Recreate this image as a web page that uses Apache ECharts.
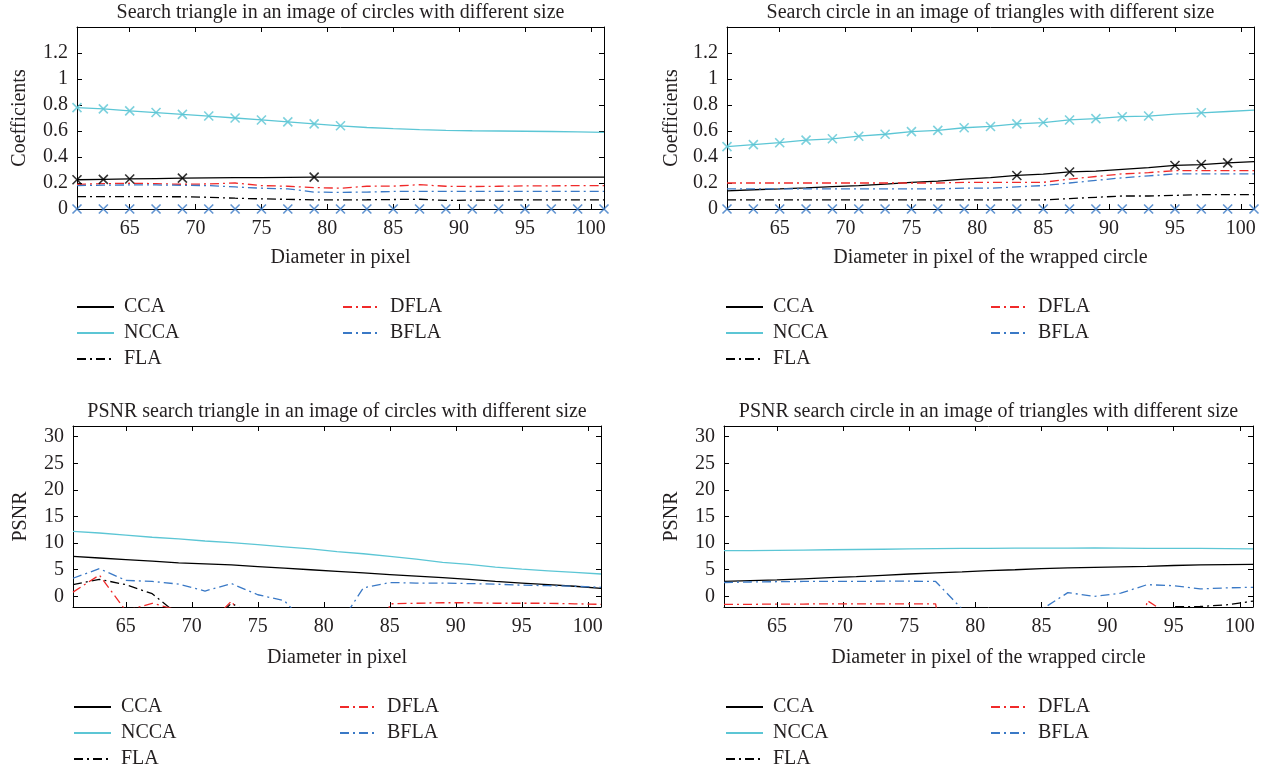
<!DOCTYPE html>
<html>
<head>
<meta charset="utf-8">
<script src="https://cdn.jsdelivr.net/npm/echarts@6/dist/echarts.min.js"></script>
<style>
  html, body { margin: 0; padding: 0; background: #ffffff; }
  #main { width: 1261px; height: 771px; }
</style>
</head>
<body>
<div id="main"></div>
<script>
// Diameters (pixels) at which each detector was evaluated
const diameters = [61, 63, 65, 67, 69, 71, 73, 75, 77, 79, 81, 83, 85, 87, 89, 91, 93, 95, 97, 99, 101];
const diameterTicks = [65, 70, 75, 80, 85, 90, 95, 100];
const coefTicks = [0, 0.2, 0.4, 0.6, 0.8, 1, 1.2];
const psnrTicks = [0, 5, 10, 15, 20, 25, 30];

// Triangle searched among circles: correlation coefficients
const triCoefCCA  = [0.225, 0.228, 0.231, 0.234, 0.237, 0.239, 0.241, 0.242, 0.243, 0.245, 0.245, 0.245, 0.245, 0.245, 0.245, 0.245, 0.245, 0.245, 0.245, 0.245, 0.245];
const triCoefNCCA = [0.78, 0.77, 0.755, 0.742, 0.728, 0.715, 0.70, 0.685, 0.67, 0.655, 0.64, 0.627, 0.618, 0.61, 0.605, 0.602, 0.60, 0.598, 0.596, 0.594, 0.59];
const triCoefFLA  = [0.095, 0.095, 0.095, 0.095, 0.094, 0.09, 0.083, 0.078, 0.074, 0.07, 0.07, 0.071, 0.073, 0.075, 0.066, 0.068, 0.069, 0.07, 0.07, 0.07, 0.07];
const triCoefDFLA = [0.19, 0.195, 0.198, 0.195, 0.19, 0.193, 0.2, 0.18, 0.175, 0.165, 0.16, 0.175, 0.176, 0.187, 0.175, 0.173, 0.175, 0.178, 0.178, 0.18, 0.18];
const triCoefBFLA = [0.18, 0.183, 0.185, 0.185, 0.182, 0.18, 0.17, 0.16, 0.155, 0.13, 0.128, 0.13, 0.135, 0.135, 0.135, 0.135, 0.135, 0.135, 0.135, 0.135, 0.135];
const triNCCAHits = [61, 63, 65, 67, 69, 71, 73, 75, 77, 79, 81];
const triCCAHits  = [61, 63, 65, 69, 79];
const triZeroHits = [61, 63, 65, 67, 69, 71, 73, 75, 77, 79, 81, 83, 85, 87, 89, 91, 93, 95, 97, 99, 101];

// Circle searched among triangles: correlation coefficients
const cirCoefCCA  = [0.14, 0.148, 0.155, 0.163, 0.172, 0.18, 0.192, 0.205, 0.215, 0.23, 0.242, 0.258, 0.268, 0.285, 0.292, 0.305, 0.318, 0.335, 0.342, 0.355, 0.365];
const cirCoefNCCA = [0.48, 0.495, 0.51, 0.53, 0.54, 0.56, 0.575, 0.595, 0.605, 0.625, 0.635, 0.655, 0.665, 0.685, 0.695, 0.71, 0.715, 0.73, 0.74, 0.75, 0.76];
const cirCoefFLA  = [0.07, 0.07, 0.07, 0.07, 0.07, 0.07, 0.07, 0.07, 0.07, 0.07, 0.07, 0.07, 0.07, 0.08, 0.09, 0.1, 0.1, 0.105, 0.11, 0.11, 0.11];
const cirCoefDFLA = [0.2, 0.2, 0.2, 0.2, 0.2, 0.2, 0.2, 0.2, 0.2, 0.205, 0.205, 0.205, 0.205, 0.23, 0.25, 0.27, 0.28, 0.295, 0.295, 0.295, 0.295];
const cirCoefBFLA = [0.155, 0.155, 0.155, 0.155, 0.155, 0.155, 0.155, 0.155, 0.155, 0.16, 0.16, 0.17, 0.18, 0.2, 0.22, 0.24, 0.255, 0.27, 0.27, 0.27, 0.27];
const cirNCCAHits = [61, 63, 65, 67, 69, 71, 73, 75, 77, 79, 81, 83, 85, 87, 89, 91, 93, 97];
const cirCCAHits  = [83, 87, 95, 97, 99];
const cirZeroHits = [61, 63, 65, 67, 69, 71, 73, 75, 77, 79, 81, 83, 85, 87, 89, 91, 93, 95, 97, 99, 101];

// Triangle searched among circles: PSNR (dB)
const triPsnrCCA  = [7.5, 7.2, 6.9, 6.6, 6.3, 6.1, 5.9, 5.6, 5.3, 5.0, 4.7, 4.4, 4.1, 3.8, 3.5, 3.2, 2.8, 2.5, 2.2, 1.9, 1.5];
const triPsnrNCCA = [12.2, 11.9, 11.5, 11.1, 10.8, 10.4, 10.1, 9.7, 9.3, 8.9, 8.4, 8.0, 7.5, 7.0, 6.4, 6.0, 5.5, 5.1, 4.8, 4.5, 4.2];
const triPsnrFLA  = [2.2, 3.2, 2.2, 0.5, -3.5, -6, -1.3, -4, -10, -10, -10, -10, -10, -10, -10, -10, -10, -10, -10, -10, -10];
const triPsnrDFLA = [0.8, 4.0, -2.7, -1.3, -2.6, -6, -0.9, -8, -30, -30, -30, -30, -1.4, -1.3, -1.2, -1.2, -1.3, -1.3, -1.3, -1.4, -1.5];
const triPsnrBFLA = [3.4, 5.2, 3.0, 2.8, 2.3, 1.0, 2.4, 0.3, -0.8, -6, -6, 1.6, 2.6, 2.5, 2.5, 2.4, 2.3, 2.1, 2.0, 1.9, 1.7];

// Circle searched among triangles: PSNR (dB)
const cirPsnrCCA  = [2.8, 2.95, 3.1, 3.3, 3.5, 3.7, 3.95, 4.2, 4.4, 4.6, 4.85, 5.0, 5.2, 5.35, 5.45, 5.55, 5.65, 5.8, 5.9, 5.95, 6.0];
const cirPsnrNCCA = [8.6, 8.6, 8.65, 8.7, 8.75, 8.8, 8.85, 8.9, 8.95, 9.0, 9.0, 9.05, 9.05, 9.05, 9.1, 9.05, 9.0, 9.0, 9.0, 8.95, 8.9];
const cirPsnrFLA  = [-10, -10, -10, -10, -10, -10, -10, -10, -10, -10, -10, -10, -10, -10, -10, -10, -10, -1.95, -1.9, -1.6, -0.9];
const cirPsnrDFLA = [-1.5, -1.5, -1.45, -1.45, -1.4, -1.4, -1.4, -1.4, -1.4, -30, -30, -30, -30, -30, -30, -30, -0.8, -4, -30, -30, -30];
const cirPsnrBFLA = [2.6, 2.7, 2.75, 2.8, 2.8, 2.8, 2.85, 2.85, 2.8, -2.4, -10, -10, -2.5, 0.7, 0.0, 0.6, 2.2, 2.0, 1.4, 1.6, 1.7];

const FONT = 'Liberation Serif';
const INK = '#231f20';
const COLORS = { CCA: '#000000', NCCA: '#5cc6d5', FLA: '#000000', DFLA: '#f02a2a', BFLA: '#3a79c6' };
const DASHDOT = [9, 4, 2, 4];
const CROSS = 'path://M0,0L10,10M10,0L0,10';

const panels = [
  {
    title: 'Search triangle in an image of circles with different size',
    xName: 'Diameter in pixel', yName: 'Coefficients',
    grid: { left: 77, top: 27, width: 527, height: 182 },
    yMin: 0, yMax: 1.4, yTicks: coefTicks, yNameGap: 47, xNameGap: 39,
    legendTop: 297, col1: 76, col2: 342,
    series: { CCA: triCoefCCA, NCCA: triCoefNCCA, FLA: triCoefFLA, DFLA: triCoefDFLA, BFLA: triCoefBFLA },
    hits: [ { xs: triNCCAHits, ys: triCoefNCCA, c: COLORS.NCCA }, { xs: triCCAHits, ys: triCoefCCA, c: '#000000' }, { xs: triZeroHits, ys: null, c: COLORS.BFLA } ]
  },
  {
    title: 'Search circle in an image of triangles with different size',
    xName: 'Diameter in pixel of the wrapped circle', yName: 'Coefficients',
    grid: { left: 727, top: 27, width: 527, height: 182 },
    yMin: 0, yMax: 1.4, yTicks: coefTicks, yNameGap: 45, xNameGap: 39,
    legendTop: 297, col1: 725, col2: 990,
    series: { CCA: cirCoefCCA, NCCA: cirCoefNCCA, FLA: cirCoefFLA, DFLA: cirCoefDFLA, BFLA: cirCoefBFLA },
    hits: [ { xs: cirNCCAHits, ys: cirCoefNCCA, c: COLORS.NCCA }, { xs: cirCCAHits, ys: cirCoefCCA, c: '#000000' }, { xs: cirZeroHits, ys: null, c: COLORS.BFLA } ]
  },
  {
    title: 'PSNR search triangle in an image of circles with different size',
    xName: 'Diameter in pixel', yName: 'PSNR',
    grid: { left: 73, top: 426, width: 528, height: 181 },
    yMin: -2, yMax: 32, yTicks: psnrTicks, yNameGap: 42, xNameGap: 41,
    legendTop: 697, col1: 73, col2: 339,
    series: { CCA: triPsnrCCA, NCCA: triPsnrNCCA, FLA: triPsnrFLA, DFLA: triPsnrDFLA, BFLA: triPsnrBFLA },
    hits: []
  },
  {
    title: 'PSNR search circle in an image of triangles with different size',
    xName: 'Diameter in pixel of the wrapped circle', yName: 'PSNR',
    grid: { left: 724, top: 426, width: 529, height: 181 },
    yMin: -2, yMax: 32, yTicks: psnrTicks, yNameGap: 42, xNameGap: 41,
    legendTop: 697, col1: 725, col2: 990,
    series: { CCA: cirPsnrCCA, NCCA: cirPsnrNCCA, FLA: cirPsnrFLA, DFLA: cirPsnrDFLA, BFLA: cirPsnrBFLA },
    hits: []
  }
];

const text = { fontFamily: FONT, fontSize: 20, color: INK };
const option = { animation: false, backgroundColor: '#ffffff', title: [], grid: [], xAxis: [], yAxis: [], legend: [], series: [] };

panels.forEach((p, i) => {
  option.grid.push(Object.assign({ containLabel: false }, p.grid));
  option.title.push({
    text: p.title, left: p.grid.left + p.grid.width / 2, top: p.grid.top - 24, textAlign: 'center', padding: 0,
    textStyle: Object.assign({ fontWeight: 'normal' }, text)
  });
  const frame = { show: true, onZero: false, lineStyle: { color: '#000', width: 1 } };
  const tick = { show: true, inside: true, length: 5, lineStyle: { color: '#000' } };
  // bottom and top x axes
  option.xAxis.push({
    type: 'value', gridIndex: i, min: 61, max: 101, position: 'bottom',
    name: p.xName, nameLocation: 'middle', nameGap: p.xNameGap, nameTextStyle: text,
    axisLine: frame, axisTick: Object.assign({ customValues: diameterTicks }, tick),
    axisLabel: Object.assign({ margin: 10, customValues: diameterTicks }, text),
    splitLine: { show: false }
  });
  option.xAxis.push({
    type: 'value', gridIndex: i, min: 61, max: 101, position: 'top',
    axisLine: frame, axisTick: Object.assign({ customValues: diameterTicks }, tick),
    axisLabel: { show: false }, splitLine: { show: false }
  });
  // left and right y axes
  option.yAxis.push({
    type: 'value', gridIndex: i, min: p.yMin, max: p.yMax, position: 'left',
    name: p.yName, nameLocation: 'middle', nameGap: p.yNameGap, nameRotate: 90, nameTextStyle: text,
    axisLine: frame, axisTick: Object.assign({ customValues: p.yTicks }, tick),
    axisLabel: Object.assign({ margin: 9, customValues: p.yTicks }, text),
    splitLine: { show: false }
  });
  option.yAxis.push({
    type: 'value', gridIndex: i, min: p.yMin, max: p.yMax, position: 'right',
    axisLine: frame, axisTick: Object.assign({ customValues: p.yTicks }, tick),
    axisLabel: { show: false }, splitLine: { show: false }
  });

  const xi = i * 2, yi = i * 2;
  ['CCA', 'NCCA', 'FLA', 'DFLA', 'BFLA'].forEach(name => {
    const solid = name === 'CCA' || name === 'NCCA';
    option.series.push({
      type: 'line', name: name, xAxisIndex: xi, yAxisIndex: yi,
      data: diameters.map((d, k) => [d, p.series[name][k]]),
      symbol: 'none', symbolSize: 0, showSymbol: false, clip: true, z: solid ? 3 : 4,
      lineStyle: { color: COLORS[name], width: 1.3, type: solid ? 'solid' : DASHDOT },
      itemStyle: { color: COLORS[name] }
    });
  });
  p.hits.forEach(h => {
    option.series.push({
      type: 'scatter', xAxisIndex: xi, yAxisIndex: yi, clip: false, z: 6,
      symbol: CROSS, symbolSize: 9,
      itemStyle: { color: h.c, borderColor: h.c, borderWidth: 1.6 },
      data: h.xs.map(d => [d, h.ys ? h.ys[diameters.indexOf(d)] : 0])
    });
  });

  const legendBase = {
    orient: 'vertical', itemWidth: 37, itemHeight: 14, itemGap: 6, top: p.legendTop, padding: 0,
    itemStyle: { opacity: 0 },
    textStyle: Object.assign({ padding: [0, 0, 0, 5], lineHeight: 20 }, text)
  };
  option.legend.push(Object.assign({}, legendBase, { left: p.col1, data: ['CCA', 'NCCA', 'FLA'] }));
  option.legend.push(Object.assign({}, legendBase, { left: p.col2, data: ['DFLA', 'BFLA'] }));
});

const chart = echarts.init(document.getElementById('main'), null, { renderer: 'canvas' });
chart.setOption(option);
</script>
</body>
</html>
